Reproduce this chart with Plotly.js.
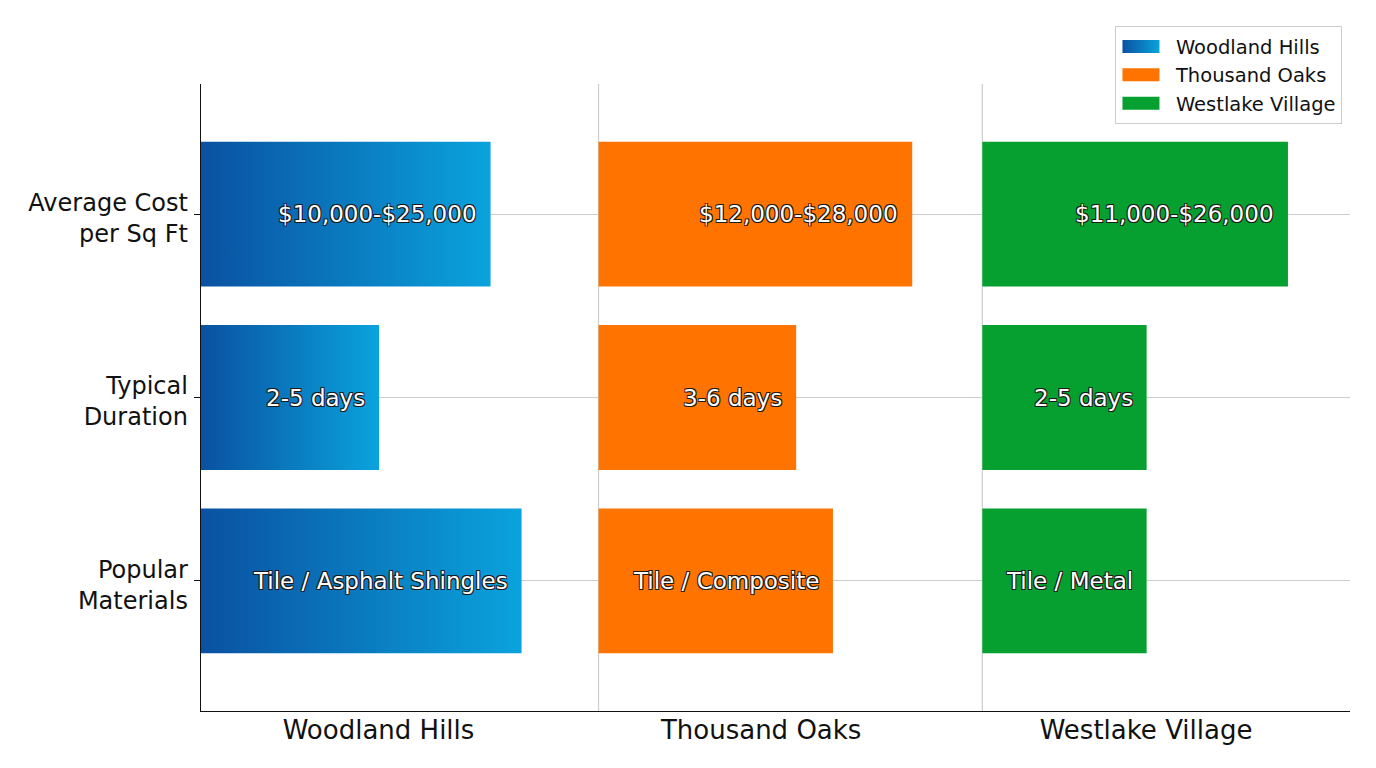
<!DOCTYPE html>
<html>
<head>
<meta charset="utf-8">
<script src="https://cdn.plot.ly/plotly-3.0.1.min.js"></script>
<style>
  html, body { margin: 0; padding: 0; background: #ffffff; }
  #chart { width: 1376px; height: 768px; }
</style>
</head>
<body>
<div id="chart"></div>
<script>
// Metrics compared for each area (top to bottom)
const metrics = ['Average Cost<br>per Sq Ft', 'Typical<br>Duration', 'Popular<br>Materials'];
const areas = ['Woodland Hills', 'Thousand Oaks', 'Westlake Village'];

// Bar lengths on the shared relative scale, one value per metric
const woodlandHillsScores = [2.52, 1.55, 2.79];
const thousandOaksScores = [2.73, 1.72, 2.04];
const westlakeVillageScores = [2.66, 1.43, 1.43];

// Text shown inside each bar
const woodlandHillsLabels = ['$10,000-$25,000', '2-5 days', 'Tile / Asphalt Shingles'];
const thousandOaksLabels = ['$12,000-$28,000', '3-6 days', 'Tile / Composite'];
const westlakeVillageLabels = ['$11,000-$26,000', '2-5 days', 'Tile / Metal'];

// Where each area's panel begins on the x scale, and where its name sits
const panelStarts = [0, 3.46, 6.80];
const areaTickPositions = [1.545, 4.875, 8.225];
const xMax = 10;

const scores = [woodlandHillsScores, thousandOaksScores, westlakeVillageScores];
const labels = [woodlandHillsLabels, thousandOaksLabels, westlakeVillageLabels];
const colors = ['#0a7cc2', '#ff7400', '#05a030'];

const traces = areas.map((name, i) => ({
  type: 'bar',
  orientation: 'h',
  name: name,
  y: metrics,
  x: scores[i],
  base: metrics.map(() => panelStarts[i]),
  width: 0.79,
  marker: { color: colors[i], line: { width: 0 } },
  hoverinfo: 'skip'
}));

// Value text, right-aligned near the end of each bar
const outline = '-1px -1px 0 #1a1a1a, 1px -1px 0 #1a1a1a, -1px 1px 0 #1a1a1a, 1px 1px 0 #1a1a1a';
const annotations = [];
areas.forEach((area, i) => {
  metrics.forEach((m, j) => {
    annotations.push({
      x: panelStarts[i] + scores[i][j],
      y: m,
      xref: 'x', yref: 'y',
      text: labels[i][j],
      showarrow: false,
      xanchor: 'right',
      yanchor: 'middle',
      xshift: -12,
      font: { family: 'DejaVu Sans, sans-serif', size: 23, color: '#ffffff', shadow: outline }
    });
  });
});

// Light separators between the area panels
const shapes = panelStarts.slice(1).map(x => ({
  type: 'line', xref: 'x', yref: 'paper',
  x0: x, x1: x, y0: 0, y1: 1,
  line: { color: '#cccccc', width: 1.2 },
  layer: 'below'
}));

const layout = {
  width: 1376,
  height: 768,
  margin: { l: 201, r: 26, t: 84, b: 57 },
  paper_bgcolor: '#ffffff',
  plot_bgcolor: '#ffffff',
  font: { family: 'DejaVu Sans, sans-serif', color: '#111111' },
  barmode: 'overlay',
  showlegend: true,
  xaxis: {
    range: [0, xMax],
    tickmode: 'array',
    tickvals: areaTickPositions,
    ticktext: areas,
    ticks: '',
    showgrid: false,
    zeroline: false,
    showline: true,
    linecolor: '#111111',
    linewidth: 1.3,
    ticklabelstandoff: -5,
    tickfont: { size: 26, color: '#111111' }
  },
  yaxis: {
    type: 'category',
    range: [2.71, -0.71],
    ticks: 'outside',
    ticklen: 6,
    tickwidth: 1,
    tickcolor: '#111111',
    showline: true,
    linecolor: '#111111',
    linewidth: 1.3,
    showgrid: true,
    gridcolor: '#cccccc',
    gridwidth: 1,
    zeroline: false,
    ticklabelshift: -4,
    ticklabelstandoff: 1,
    tickfont: { size: 24, color: '#111111' }
  },
  legend: {
    x: 0.993, xanchor: 'right',
    y: 1.092, yanchor: 'top',
    bgcolor: '#ffffff',
    bordercolor: '#cccccc',
    borderwidth: 1,
    font: { size: 19.5, color: '#111111' },
    traceorder: 'normal',
    itemwidth: 50
  },
  annotations: annotations,
  shapes: shapes
};

Plotly.newPlot('chart', traces, layout, { staticPlot: true }).then(gd => {
  // Woodland Hills bars fade from deep blue to sky blue across each bar
  const ns = 'http://www.w3.org/2000/svg';
  const svg = gd.querySelector('svg.main-svg');
  let defs = svg.querySelector('defs');
  if (!defs) { defs = document.createElementNS(ns, 'defs'); svg.insertBefore(defs, svg.firstChild); }
  const grad = document.createElementNS(ns, 'linearGradient');
  grad.setAttribute('id', 'woodlandFill');
  grad.setAttribute('x1', '0'); grad.setAttribute('y1', '0');
  grad.setAttribute('x2', '1'); grad.setAttribute('y2', '0');
  [['0', '#0a51a1'], ['1', '#0aa3dd']].forEach(([off, col]) => {
    const s = document.createElementNS(ns, 'stop');
    s.setAttribute('offset', off);
    s.setAttribute('stop-color', col);
    grad.appendChild(s);
  });
  defs.appendChild(grad);

  const barTraces = gd.querySelectorAll('.barlayer .trace.bars');
  if (barTraces[0]) {
    barTraces[0].querySelectorAll('path').forEach(p => { p.style.fill = 'url(#woodlandFill)'; });
  }

  // Wide legend swatches, set a little left of the symbol slot centre
  const legendItems = gd.querySelectorAll('.legend .traces');
  legendItems.forEach((item, i) => {
    const p = item.querySelector('.legendpoints path');
    if (p) {
      p.setAttribute('d', 'M13.5,6.5H-23.5V-6.5H13.5Z');
      if (i === 0) p.style.fill = 'url(#woodlandFill)';
    }
  });
});
</script>
</body>
</html>
